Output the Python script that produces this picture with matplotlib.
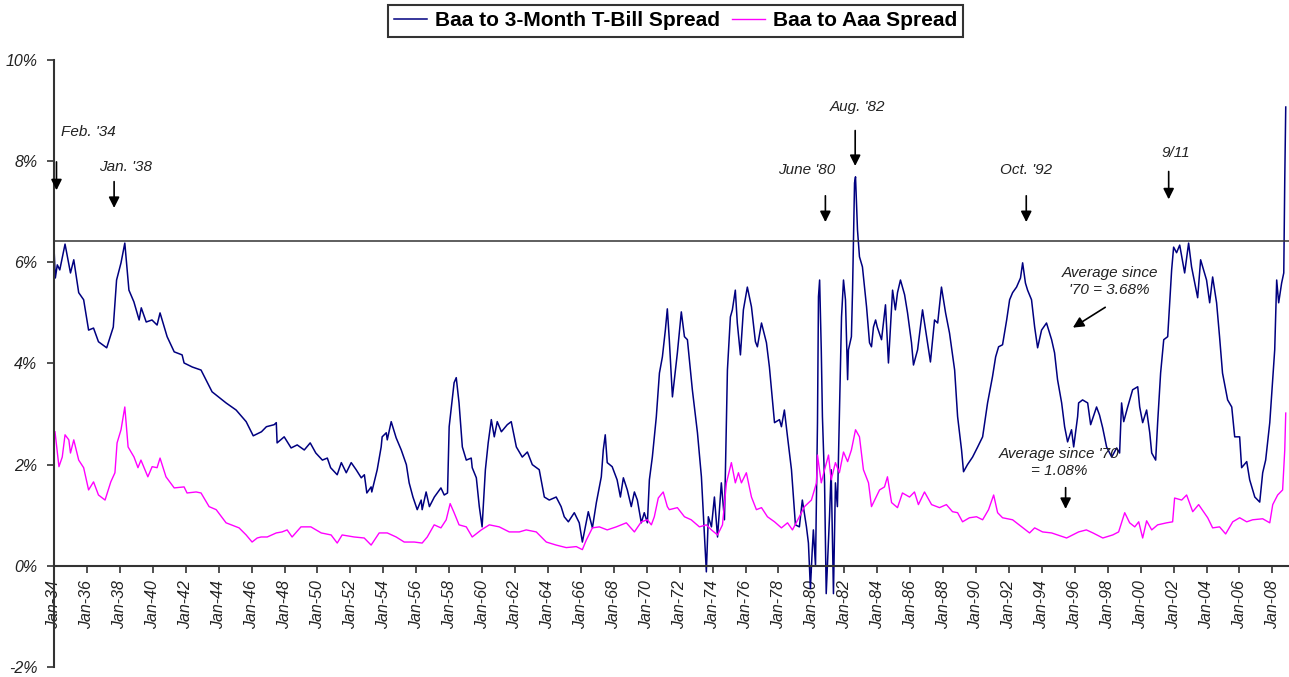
import matplotlib
matplotlib.use('Agg')
import matplotlib.pyplot as plt

plt.rcParams['font.family'] = ['Liberation Sans', 'DejaVu Sans']

# Baa to 3-Month T-Bill spread (%)
tbill_years = [1934.00, 1934.08, 1934.2, 1934.35, 1934.67, 1935.0, 1935.2, 1935.5, 1935.8, 1936.1,
               1936.4, 1936.7, 1937.2, 1937.6, 1937.8, 1938.07, 1938.3, 1938.55, 1938.85, 1939.17,
               1939.3, 1939.6, 1939.95, 1940.26, 1940.44, 1940.87, 1941.3, 1941.78, 1941.9, 1942.4,
               1942.93, 1943.6, 1944.45, 1945.06, 1945.67, 1946.1, 1946.6, 1946.9, 1947.37, 1947.5,
               1947.55, 1947.98, 1948.4, 1948.77, 1949.2, 1949.56, 1949.9, 1950.3, 1950.6, 1950.8,
               1951.2, 1951.45, 1951.75, 1952.05, 1952.35, 1952.66, 1952.85, 1953.0, 1953.26, 1953.3,
               1953.63, 1953.87, 1953.93, 1954.18, 1954.24, 1954.48, 1954.78, 1955.09, 1955.4, 1955.57,
               1955.8, 1956.06, 1956.3, 1956.36, 1956.6, 1956.8, 1957.1, 1957.5, 1957.7, 1957.9,
               1958.0, 1958.3, 1958.43, 1958.6, 1958.8, 1959.04, 1959.34, 1959.4, 1959.65, 1959.83,
               1960.0, 1960.2, 1960.37, 1960.56, 1960.74, 1960.92, 1961.17, 1961.53, 1961.77, 1962.08,
               1962.44, 1962.75, 1963.05, 1963.47, 1963.78, 1964.08, 1964.5, 1964.8, 1964.99, 1965.24,
               1965.6, 1965.9, 1966.09, 1966.27, 1966.45, 1966.7, 1966.94, 1967.24, 1967.36, 1967.48,
               1967.6, 1967.9, 1968.2, 1968.4, 1968.58, 1968.82, 1969.06, 1969.25, 1969.43, 1969.67,
               1969.85, 1970.04, 1970.16, 1970.34, 1970.58, 1970.77, 1970.95, 1971.13, 1971.25, 1971.37,
               1971.56, 1971.86, 1972.1, 1972.29, 1972.47, 1972.77, 1973.08, 1973.32, 1973.5, 1973.62,
               1973.74, 1973.93, 1974.11, 1974.3, 1974.53, 1974.72, 1974.9, 1975.08, 1975.2, 1975.38,
               1975.5, 1975.69, 1975.87, 1976.11, 1976.36, 1976.6, 1976.72, 1976.97, 1977.27, 1977.45,
               1977.76, 1978.06, 1978.18, 1978.36, 1978.55, 1978.79, 1979.03, 1979.27, 1979.45, 1979.7,
               1979.82, 1979.94, 1980.05, 1980.12, 1980.25, 1980.37, 1980.43, 1980.5, 1980.6, 1980.67,
               1980.8, 1980.9, 1981.1, 1981.2, 1981.34, 1981.46, 1981.58, 1981.7, 1981.83, 1981.95,
               1982.07, 1982.2, 1982.25, 1982.43, 1982.5, 1982.62, 1982.68, 1982.8, 1982.92, 1983.1,
               1983.35, 1983.53, 1983.65, 1983.77, 1983.9, 1984.0, 1984.26, 1984.5, 1984.68, 1984.93,
               1985.1, 1985.23, 1985.41, 1985.66, 1985.84, 1986.08, 1986.2, 1986.45, 1986.75, 1987.0,
               1987.23, 1987.48, 1987.67, 1987.9, 1988.15, 1988.39, 1988.7, 1988.88, 1989.12, 1989.24,
               1989.48, 1989.79, 1990.1, 1990.4, 1990.7, 1991.0, 1991.19, 1991.37, 1991.61, 1991.86,
               1992.04, 1992.22, 1992.46, 1992.7, 1992.83, 1993.0, 1993.13, 1993.37, 1993.56, 1993.74,
               1993.98, 1994.28, 1994.59, 1994.77, 1994.95, 1995.2, 1995.38, 1995.56, 1995.8, 1995.93,
               1996.17, 1996.23, 1996.47, 1996.78, 1996.96, 1997.32, 1997.5, 1997.69, 1997.93, 1998.24,
               1998.54, 1998.72, 1998.84, 1998.97, 1999.21, 1999.51, 1999.82, 1999.94, 2000.12, 2000.36,
               2000.55, 2000.67, 2000.91, 2001.03, 2001.21, 2001.4, 2001.64, 2001.88, 2002.0, 2002.18,
               2002.37, 2002.67, 2002.91, 2003.09, 2003.46, 2003.64, 2004.0, 2004.19, 2004.37, 2004.61,
               2004.79, 2004.97, 2005.28, 2005.53, 2005.71, 2006.01, 2006.13, 2006.44, 2006.62, 2006.93,
               2007.23, 2007.41, 2007.59, 2007.84, 2008.14, 2008.26, 2008.38, 2008.56, 2008.69, 2008.75,
               2008.81]
tbill_spread = [6.28, 5.69, 5.95, 5.85, 6.36, 5.79, 6.05, 5.4, 5.26, 4.66,
                4.7, 4.43, 4.31, 4.72, 5.65, 5.99, 6.38, 5.45, 5.22, 4.86,
                5.1, 4.82, 4.86, 4.76, 5.0, 4.53, 4.23, 4.17, 4.01, 3.93,
                3.87, 3.44, 3.22, 3.08, 2.85, 2.57, 2.65, 2.75, 2.79, 2.83,
                2.43, 2.55, 2.33, 2.39, 2.29, 2.43, 2.23, 2.09, 2.13, 1.94,
                1.8, 2.04, 1.84, 2.04, 1.9, 1.74, 1.8, 1.44, 1.56, 1.46,
                1.9, 2.35, 2.55, 2.63, 2.49, 2.85, 2.53, 2.29, 2.0, 1.64,
                1.36, 1.11, 1.3, 1.11, 1.46, 1.17, 1.36, 1.54, 1.4, 1.44,
                2.75, 3.62, 3.72, 3.22, 2.35, 2.09, 2.13, 1.94, 1.74, 1.17,
                0.77, 1.9, 2.43, 2.89, 2.55, 2.85, 2.65, 2.79, 2.85, 2.35,
                2.15, 2.25, 2.0, 1.9, 1.36, 1.3, 1.36, 1.17, 0.97, 0.87,
                1.05, 0.85, 0.47, 0.77, 1.07, 0.75, 1.25, 1.76, 2.29, 2.59,
                2.04, 1.96, 1.7, 1.36, 1.74, 1.5, 1.17, 1.46, 1.3, 0.85,
                1.05, 0.85, 1.7, 2.15, 2.94, 3.81, 4.13, 4.66, 5.08, 4.47,
                3.34, 4.21, 5.02, 4.53, 4.47, 3.48, 2.63, 1.76, 0.65, -0.12,
                0.97, 0.77, 1.36, 0.57, 1.64, 0.91, 3.87, 4.92, 5.06, 5.45,
                4.8, 4.17, 5.06, 5.51, 5.12, 4.43, 4.33, 4.8, 4.41, 3.93,
                2.83, 2.89, 2.75, 3.08, 2.55, 1.9, 0.81, 0.77, 1.3, 0.77,
                0.45, -0.45, 0.3, 0.71, 0.0, 2.83, 5.32, 5.65, 4.27, 2.95,
                1.64, -0.55, 0.97, 1.9, -0.55, 1.64, 1.17, 2.95, 4.92, 5.65,
                5.26, 3.68, 4.27, 4.53, 5.45, 7.57, 7.69, 6.64, 6.11, 5.91,
                5.12, 4.41, 4.33, 4.72, 4.86, 4.72, 4.47, 5.16, 4.01, 5.45,
                5.06, 5.4, 5.65, 5.36, 5.0, 4.41, 3.97, 4.27, 5.06, 4.53,
                4.03, 4.86, 4.8, 5.51, 5.0, 4.6, 3.87, 2.95, 2.29, 1.86,
                2.0, 2.15, 2.35, 2.55, 3.22, 3.74, 4.13, 4.33, 4.37, 4.86,
                5.26, 5.4, 5.51, 5.69, 5.99, 5.59, 5.45, 5.26, 4.72, 4.31,
                4.66, 4.8, 4.47, 4.21, 3.68, 3.22, 2.75, 2.45, 2.69, 2.35,
                2.95, 3.22, 3.28, 3.22, 2.79, 3.14, 2.98, 2.73, 2.35, 2.15,
                2.33, 2.23, 3.22, 2.85, 3.14, 3.48, 3.54, 3.14, 2.83, 3.08,
                2.63, 2.23, 2.09, 2.83, 3.81, 4.47, 4.53, 5.85, 6.3, 6.19,
                6.34, 5.79, 6.38, 5.91, 5.3, 6.05, 5.65, 5.2, 5.71, 5.2,
                4.53, 3.81, 3.28, 3.14, 2.55, 2.55, 1.94, 2.06, 1.7, 1.36,
                1.26, 1.84, 2.09, 2.83, 4.27, 5.65, 5.2, 5.59, 5.79, 7.63,
                9.07]

# Baa to Aaa spread (%)
aaa_years = [1934.06, 1934.3, 1934.5, 1934.67, 1934.9, 1935.0, 1935.2, 1935.5, 1935.8, 1936.1,
             1936.4, 1936.7, 1937.1, 1937.45, 1937.7, 1937.83, 1938.07, 1938.3, 1938.5, 1938.86,
             1939.1, 1939.28, 1939.7, 1939.96, 1940.26, 1940.44, 1940.8, 1941.3, 1941.9, 1942.08,
             1942.63, 1942.93, 1943.42, 1943.85, 1944.45, 1945.24, 1945.67, 1946.03, 1946.34, 1946.58,
             1946.95, 1947.5, 1947.85, 1948.16, 1948.46, 1949.0, 1949.6, 1950.23, 1950.83, 1951.2,
             1951.5, 1952.23, 1952.84, 1953.26, 1953.75, 1954.24, 1954.78, 1955.27, 1955.88, 1956.36,
             1956.67, 1957.09, 1957.5, 1957.82, 1958.06, 1958.3, 1958.6, 1959.04, 1959.4, 1959.95,
             1960.44, 1961.04, 1961.65, 1962.26, 1962.68, 1963.29, 1963.9, 1964.5, 1965.11, 1965.72,
             1966.09, 1966.33, 1966.7, 1967.12, 1967.6, 1968.15, 1968.76, 1969.25, 1969.67, 1970.04,
             1970.28, 1970.46, 1970.7, 1971.0, 1971.25, 1971.37, 1971.86, 1972.29, 1972.7, 1973.2,
             1973.62, 1973.93, 1974.3, 1974.6, 1974.84, 1975.14, 1975.38, 1975.57, 1975.75, 1976.05,
             1976.36, 1976.66, 1976.97, 1977.33, 1977.76, 1978.18, 1978.55, 1978.85, 1979.27, 1979.58,
             1980.0, 1980.31, 1980.37, 1980.6, 1980.8, 1981.04, 1981.2, 1981.46, 1981.7, 1981.95,
             1982.2, 1982.43, 1982.68, 1982.92, 1983.16, 1983.47, 1983.65, 1983.77, 1984.14, 1984.44,
             1984.62, 1984.87, 1985.23, 1985.53, 1985.96, 1986.26, 1986.5, 1986.87, 1987.3, 1987.78,
             1988.2, 1988.57, 1988.88, 1989.18, 1989.6, 1990.03, 1990.4, 1990.76, 1991.07, 1991.31,
             1991.61, 1992.22, 1992.77, 1993.25, 1993.56, 1994.04, 1994.59, 1994.95, 1995.5, 1995.86,
             1996.23, 1996.7, 1997.1, 1997.7, 1998.3, 1998.66, 1999.03, 1999.33, 1999.64, 1999.88,
             2000.12, 2000.36, 2000.67, 2001.03, 2001.58, 2001.94, 2002.06, 2002.49, 2002.79, 2003.16,
             2003.52, 2004.07, 2004.37, 2004.79, 2005.16, 2005.59, 2006.01, 2006.44, 2006.8, 2007.41,
             2007.84, 2008.02, 2008.32, 2008.62, 2008.75, 2008.81]
aaa_spread = [2.65, 1.96, 2.15, 2.59, 2.49, 2.23, 2.49, 2.09, 1.94, 1.5,
              1.66, 1.4, 1.3, 1.66, 1.84, 2.43, 2.69, 3.14, 2.35, 2.15,
              1.94, 2.09, 1.76, 1.96, 1.94, 2.13, 1.76, 1.54, 1.56, 1.44,
              1.46, 1.44, 1.17, 1.11, 0.85, 0.75, 0.61, 0.47, 0.55, 0.57,
              0.57, 0.65, 0.67, 0.71, 0.57, 0.77, 0.77, 0.65, 0.61, 0.45,
              0.61, 0.57, 0.55, 0.41, 0.65, 0.65, 0.57, 0.47, 0.47, 0.45,
              0.57, 0.81, 0.75, 0.91, 1.23, 1.05, 0.81, 0.77, 0.57, 0.71,
              0.81, 0.77, 0.67, 0.67, 0.71, 0.67, 0.47, 0.41, 0.36, 0.38,
              0.32, 0.51, 0.75, 0.77, 0.71, 0.77, 0.85, 0.67, 0.87, 0.91,
              0.81, 0.97, 1.34, 1.46, 1.17, 1.11, 1.15, 0.97, 0.91, 0.77,
              0.81, 0.71, 0.61, 0.81, 1.64, 2.04, 1.64, 1.84, 1.64, 1.84,
              1.36, 1.11, 1.15, 0.97, 0.87, 0.75, 0.85, 0.71, 0.97, 1.17,
              1.3, 1.64, 2.19, 1.64, 1.9, 2.19, 1.7, 2.04, 1.84, 2.25,
              2.06, 2.29, 2.69, 2.55, 1.9, 1.64, 1.17, 1.25, 1.5, 1.56,
              1.76, 1.25, 1.15, 1.44, 1.36, 1.46, 1.21, 1.46, 1.21, 1.15,
              1.21, 1.07, 1.05, 0.87, 0.95, 0.97, 0.91, 1.11, 1.4, 1.05,
              0.95, 0.91, 0.77, 0.65, 0.75, 0.67, 0.65, 0.61, 0.55, 0.61,
              0.67, 0.71, 0.65, 0.55, 0.61, 0.67, 1.05, 0.85, 0.77, 0.87,
              0.55, 0.89, 0.71, 0.81, 0.85, 0.87, 1.34, 1.3, 1.4, 1.07,
              1.21, 0.95, 0.75, 0.77, 0.63, 0.87, 0.95, 0.87, 0.91, 0.93,
              0.85, 1.21, 1.4, 1.5, 2.29, 3.02]

avg_line = 6.42
tick_years = list(range(1934, 2009, 2))
tick_labels = ['Jan-%02d' % (y % 100) for y in tick_years]
y_ticks = [-2, 0, 2, 4, 6, 8, 10]

# (label, text position, arrow tail, arrow head)
events = [
    ("Feb. '34", (1936.1, 8.58), (1934.15, 8.04), (1934.15, 7.37)),
    ("Jan. '38", (1938.36, 7.89), (1937.65, 7.65), (1937.65, 7.02)),
    ("June '80", (1979.7, 7.83), (1980.85, 7.37), (1980.85, 6.74)),
    ("Aug. '82", (1982.78, 9.07), (1982.66, 8.66), (1982.66, 7.85)),
    ("Oct. '92", (1993.05, 7.83), (1993.05, 7.37), (1993.05, 6.74)),
    ("9/11", (2002.12, 8.16), (2001.7, 7.85), (2001.7, 7.19)),
    ("Average since\n'70 = 3.68%", (1998.11, 5.62), (1997.99, 5.14), (1995.74, 4.68)),
    ("Average since '70\n= 1.08%", (1995.07, 2.04), (1995.44, 1.6), (1995.44, 1.07)),
]

fig = plt.figure(figsize=(12.89, 6.77), dpi=100)
ax = fig.add_axes([0.0419, 0.0148, 0.958, 0.8966])

ax.plot(tbill_years, tbill_spread, color='#000080', lw=1.1, label='Baa to 3-Month T-Bill Spread')
ax.plot(aaa_years, aaa_spread, color='#ff00ff', lw=1.0, label='Baa to Aaa Spread')
ax.axhline(avg_line, color='#333333', lw=1.1)

for label, txt, tail, head in events:
    ax.text(txt[0], txt[1], label, ha='center', va='center', fontsize=11,
            style='italic', color='#222222', linespacing=1.3)
    ax.annotate('', xy=head, xytext=tail,
                arrowprops=dict(arrowstyle='-|>', color='black', lw=1.2, mutation_scale=16))

ax.set_xlim(1934, 2009)
ax.set_ylim(-2, 10)
ax.spines['top'].set_visible(False)
ax.spines['right'].set_visible(False)
ax.spines['bottom'].set_position(('data', 0))
ax.spines['left'].set_color('#333333')
ax.spines['bottom'].set_color('#333333')
ax.spines['left'].set_linewidth(1.5)
ax.spines['bottom'].set_linewidth(1.5)

ax.set_xticks(tick_years)
ax.set_xticklabels(tick_labels, rotation=90, fontsize=11.5, style='italic', color='#222222')
ax.set_yticks(y_ticks)
ax.set_yticklabels(['%d%%' % v for v in y_ticks], fontsize=11.5, style='italic', color='#222222')
ax.tick_params(axis='both', direction='out', length=5, width=1.2, color='#333333')
ax.tick_params(axis='x', pad=5)
ax.tick_params(axis='y', pad=7)

fig.legend(loc='upper center', bbox_to_anchor=(0.524, 0.9926), ncol=2, frameon=True,
           fancybox=False, edgecolor='black', prop={'weight': 'bold', 'size': 15},
           handlelength=1.6, handletextpad=0.35, columnspacing=0.6, borderpad=0.3,
           borderaxespad=0)
fig.legends[0].get_frame().set_linewidth(1.5)

plt.savefig('out.png', dpi=100)
